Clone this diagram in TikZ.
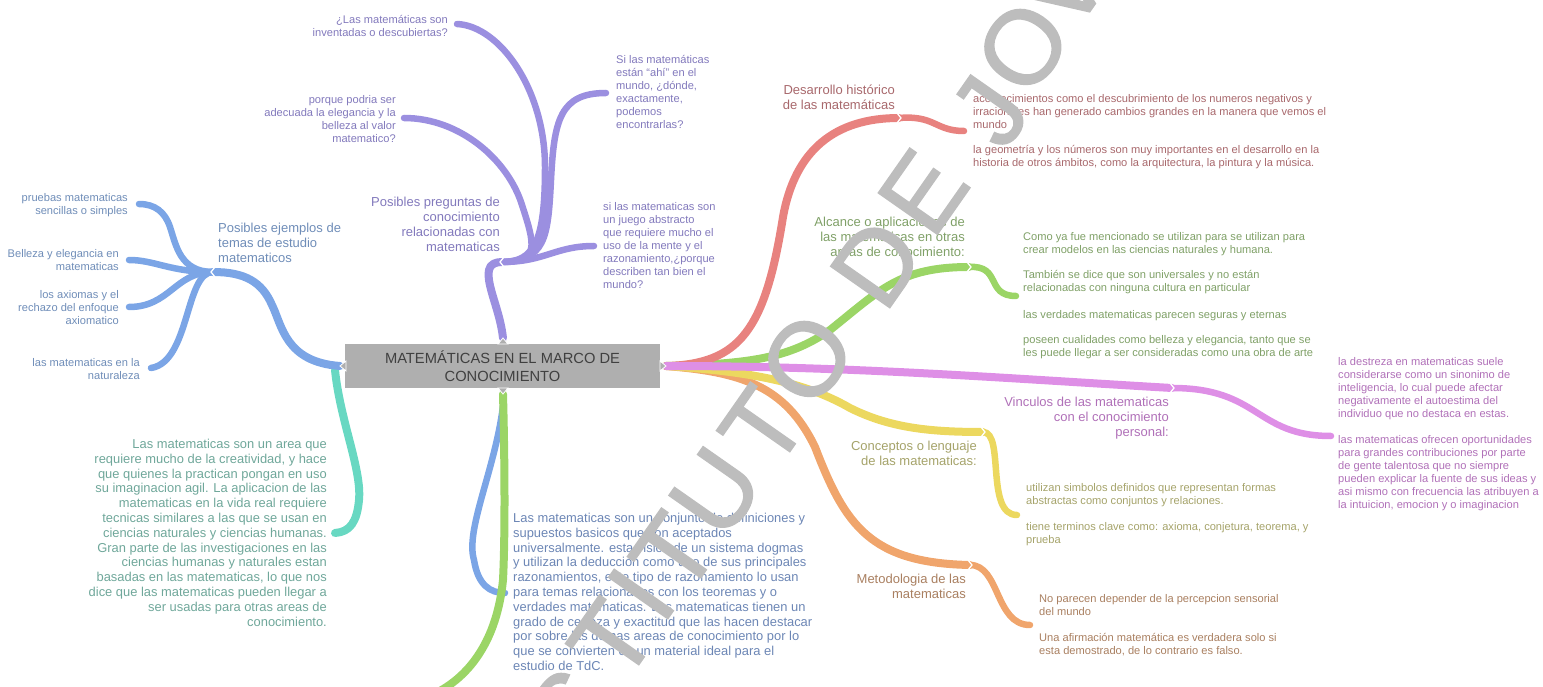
\documentclass[tikz,border=0pt]{standalone}
\usepackage{fontspec}
\setmainfont{Liberation Sans}
\newfontfamily\wmfont[FakeBold=1.3]{Liberation Sans}
\definecolor{cPur}{HTML}{9B8FE0}\definecolor{tPur}{HTML}{8279BC}
\definecolor{cBlu}{HTML}{7BA5E6}\definecolor{tBlu}{HTML}{6F8DB8}
\definecolor{cTea}{HTML}{68D8C2}\definecolor{tTea}{HTML}{6FA79A}
\definecolor{tNav}{HTML}{6C86B5}
\definecolor{cRed}{HTML}{E8827F}\definecolor{tRed}{HTML}{A8686C}
\definecolor{cGre}{HTML}{9BD566}\definecolor{tGre}{HTML}{7FA067}
\definecolor{cMag}{HTML}{DE8FE6}\definecolor{tMag}{HTML}{B070B8}
\definecolor{cYel}{HTML}{ECD85F}\definecolor{tYel}{HTML}{A5A36A}
\definecolor{cOra}{HTML}{F0A56C}\definecolor{tOra}{HTML}{A97F60}
\definecolor{cBox}{HTML}{AFAFAF}\definecolor{cMark}{HTML}{BDBDBD}
\tikzset{
 x=1pt,y=-1pt,
 small/.style={inner sep=0pt,yshift=-2pt,font=\fontsize{11.1}{13}\selectfont},
 head/.style={inner sep=0pt,yshift=-2pt,font=\fontsize{13}{15}\selectfont},
 para/.style={inner sep=0pt,font=\fontsize{12.9}{14.8}\selectfont},
 lft/.style={align=left,anchor=north west},
 rgt/.style={align=right,anchor=north east},
 branch/.style={line width=8pt,line cap=round,line join=round},
 twig/.style={line width=6.5pt,line cap=round,line join=round},
 wmark/.style={text=cMark,rotate=55,inner sep=0pt,anchor=center,font=\wmfont\fontsize{105}{105}\selectfont},
 notch/.style={draw=white,line width=1.3pt,fill=none,line cap=round},
}
\begin{document}
\begin{tikzpicture}
\useasboundingbox (0,0) rectangle (1543,687);
\clip (0,0) rectangle (1543,687);
% central
\node[fill=cBox,inner sep=0pt,minimum width=315pt,minimum height=44pt,align=center,text=black!75,font=\fontsize{14.7}{18}\selectfont] (root) at (502.5,366) {MATEMÁTICAS EN EL MARCO DE\\CONOCIMIENTO};
\coordinate (rootE) at (666,366);
\coordinate (rootW) at (340,366);
\coordinate (rootN) at (503,338);
\coordinate (rootS) at (503,394);
% junctions
\coordinate (jBlue) at (213,272);
\coordinate (jPur) at (502,262);
\coordinate (jRed) at (899,118);
\coordinate (jGre) at (969,267);
\coordinate (jMag) at (1172,388);
\coordinate (jYel) at (983,432);
\coordinate (jOra) at (970,565);
% heads
\node[head,lft,text=tBlu] (hBlue) at (218,221) {Posibles ejemplos de\\temas de estudio\\matematicos};
\node[head,rgt,text=tPur] (hPur) at (500,195) {Posibles preguntas de\\conocimiento\\relacionadas con\\matematicas};
\node[head,rgt,text=tRed] (hRed) at (895,83) {Desarrollo histórico\\de las matemáticas};
\node[head,rgt,text=tGre] (hGre) at (965,215) {Alcance o aplicaciones de\\las matematicas en otras\\areas de conocimiento:};
\node[head,rgt,text=tMag] (hMag) at (1169,395) {Vinculos de las matematicas\\con el conocimiento\\personal:};
\node[head,rgt,text=tYel] (hYel) at (977,439) {Conceptos o lenguaje\\de las matematicas:};
\node[head,rgt,text=tOra] (hOra) at (966,572) {Metodologia de las\\matematicas};
% leaves
\node[small,rgt,text=tPur] (q1) at (448,13) {¿Las matemáticas son\\inventadas o descubiertas?};
\node[small,rgt,text=tPur] (q2) at (396,93) {porque podria ser\\adecuada la elegancia y la\\belleza al valor\\matematico?};
\node[small,lft,text=tPur] (q3) at (616,53) {Si las matemáticas\\están ``ahí'' en el\\mundo, ¿dónde,\\exactamente,\\podemos\\encontrarlas?};
\node[small,lft,text=tPur] (q4) at (603,200) {si las matematicas son\\un juego abstracto\\que requiere mucho el\\uso de la mente y el\\razonamiento,¿porque\\describen tan bien el\\mundo?};
\node[small,rgt,text=tBlu] (b1) at (128,191) {pruebas matematicas\\sencillas o simples};
\node[small,rgt,text=tBlu] (b2) at (119,247) {Belleza y elegancia en\\matematicas};
\node[small,rgt,text=tBlu] (b3) at (119,288) {los axiomas y el\\rechazo del enfoque\\axiomatico};
\node[small,rgt,text=tBlu] (b4) at (140,356) {las matematicas en la\\naturaleza};
\node[para,rgt,text=tTea] (pTea) at (327,439) {Las matematicas son un area que\\requiere mucho de la creatividad, y hace\\que quienes la practican pongan en uso\\su imaginacion agil. La aplicacion de las\\matematicas en la vida real requiere\\tecnicas similares a las que se usan en\\ciencias naturales y ciencias humanas.\\Gran parte de las investigaciones en las\\ciencias humanas y naturales estan\\basadas en las matematicas, lo que nos\\dice que las matematicas pueden llegar a\\ser usadas para otras areas de\\conocimiento.};
\node[para,lft,text=tNav] (pNav) at (513,513) {Las matematicas son un conjunto de definiciones y\\supuestos basicos que son aceptados\\universalmente. esta visión de un sistema dogmas\\y utilizan la deducción como uno de sus principales\\razonamientos, este tipo de razonamiento lo usan\\para temas relacionados con los teoremas y o\\verdades matematicas. Las matematicas tienen un\\grado de certeza y exactitud que las hacen destacar\\por sobre las demas areas de conocimiento por lo\\que se convierten en un material ideal para el\\estudio de TdC.};
\node[small,lft,text=tRed] (r1) at (973,92) {acontecimientos como el descubrimiento de los numeros negativos y\\irracionales han generado cambios grandes en la manera que vemos el\\mundo};
\node[small,lft,text=tRed] (r2) at (973,143) {la geometría y los números son muy importantes en el desarrollo en la\\historia de otros ámbitos, como la arquitectura, la pintura y la música.};
\node[small,lft,text=tGre] (g1) at (1023,230) {Como ya fue mencionado se utilizan para se utilizan para\\crear modelos en las ciencias naturales y humana.};
\node[small,lft,text=tGre] (g2) at (1023,268) {También se dice que son universales y no están\\relacionadas con ninguna cultura en particular};
\node[small,lft,text=tGre] (g3) at (1023,308) {las verdades matematicas parecen seguras y eternas};
\node[small,lft,text=tGre] (g4) at (1023,333) {poseen cualidades como belleza y elegancia, tanto que se\\les puede llegar a ser consideradas como una obra de arte};
\node[small,lft,text=tMag] (m1) at (1338,355) {la destreza en matematicas suele\\considerarse como un sinonimo de\\inteligencia, lo cual puede afectar\\negativamente el autoestima del\\individuo que no destaca en estas.};
\node[small,lft,text=tMag] (m2) at (1338,433) {las matematicas ofrecen oportunidades\\para grandes contribuciones por parte\\de gente talentosa que no siempre\\pueden explicar la fuente de sus ideas y\\asi mismo con frecuencia las atribuyen a\\la intuicion, emocion y o imaginacion};
\node[small,lft,text=tYel] (y1) at (1026,481) {utilizan simbolos definidos que representan formas\\abstractas como conjuntos y relaciones.};
\node[small,lft,text=tYel] (y2) at (1026,520) {tiene terminos clave como: axioma, conjetura, teorema, y\\prueba};
\node[small,lft,text=tOra] (o1) at (1039,592) {No parecen depender de la percepcion sensorial\\del mundo};
\node[small,lft,text=tOra] (o2) at (1039,631) {Una afirmación matemática es verdadera solo si\\esta demostrado, de lo contrario es falso.};
% connector ends
\coordinate (eQ1) at (457,24);\coordinate (eQ2) at (404,118);\coordinate (eQ3) at (606,93);\coordinate (eQ4) at (594,246);
\coordinate (eB1) at (139,204);\coordinate (eB2) at (129,260);\coordinate (eB3) at (129,307);\coordinate (eB4) at (151,368);
\coordinate (eR) at (964,131);\coordinate (eG) at (1016,296);\coordinate (eM) at (1331,436);\coordinate (eY) at (1017,515);\coordinate (eO) at (1030,625);
\coordinate (eTea) at (335,533);\coordinate (eNav) at (505,593);\coordinate (eGre) at (438,692);
% connectors, back to front
\draw[branch,cTea] (rootW) ++(-5,4) .. controls (340,420) and (362,470) .. (359,500) .. controls (357,522) and (350,532) .. (eTea);
\draw[branch,cBlu] (rootW) .. controls (285,362) and (282,325) .. (272,305) .. controls (262,282) and (245,272) .. (jBlue);
\draw[twig,cBlu] (jBlue) .. controls (180,272) and (176,245) .. (170,227) .. controls (165,212) and (155,204) .. (eB1);
\draw[twig,cBlu] (jBlue) .. controls (170,272) and (155,260) .. (eB2);
\draw[twig,cBlu] (jBlue) .. controls (175,272) and (170,307) .. (eB3);
\draw[twig,cBlu] (jBlue) .. controls (185,272) and (190,362) .. (eB4);
\draw[branch,cPur] (rootN) .. controls (500,310) and (486,285) .. (489,270) .. controls (490,264) and (496,262) .. (jPur);
\draw[twig,cPur] (jPur) .. controls (535,262) and (545,240) .. (545,167) .. controls (545,90) and (500,26) .. (eQ1);
\draw[twig,cPur] (jPur) .. controls (540,262) and (535,245) .. (522,205) .. controls (508,160) and (460,118) .. (eQ2);
\draw[twig,cPur] (jPur) .. controls (545,260) and (548,240) .. (551,180) .. controls (554,120) and (560,93) .. (eQ3);
\draw[twig,cPur] (jPur) .. controls (545,262) and (555,246) .. (eQ4);
\draw[branch,cOra] (rootE) .. controls (740,372) and (785,385) .. (815,447) .. controls (845,525) and (870,563) .. (jOra);
\draw[twig,cOra] (jOra) .. controls (1000,565) and (995,625) .. (eO);
\draw[branch,cYel] (rootE) .. controls (760,372) and (810,385) .. (850,408) .. controls (890,428) and (930,432) .. (jYel);
\draw[twig,cYel] (jYel) .. controls (1005,432) and (985,515) .. (eY);
\draw[branch,cGre] (rootE) .. controls (750,364) and (790,358) .. (830,330) .. controls (880,290) and (900,267) .. (jGre);
\draw[twig,cGre] (jGre) .. controls (1002,265) and (985,296) .. (eG);
\draw[branch,cRed] (rootE) .. controls (740,364) and (765,330) .. (783,217) .. controls (795,150) and (835,118) .. (jRed);
\draw[twig,cRed] (jRed) .. controls (935,115) and (935,131) .. (eR);
\draw[branch,cMag] (rootE) .. controls (850,366) and (1000,378) .. (jMag);
\draw[twig,cMag] (jMag) .. controls (1260,388) and (1255,436) .. (eM);
\draw[twig,cBlu] (rootS) ++(0,12) .. controls (495,470) and (465,530) .. (474,560) .. controls (478,585) and (490,593) .. (eNav);
\draw[branch,cGre] (rootS) .. controls (505,470) and (505,540) .. (503,580) .. controls (497,640) and (470,675) .. (eGre);
% root points
\foreach \p/\a in {rootE/0,rootW/180,rootN/90,rootS/270}{
 \fill[cBox,draw=white,line width=.8pt,rotate around={\a:(\p)}] (\p) -- ++(-6,-5) -- ++(0,10) -- cycle;
}
% junction notches
\foreach \p in {jRed,jGre,jMag,jYel,jOra}{\draw[notch] (\p) ++(-2,-5) -- ++(4,5) -- ++(-4,5);}
\foreach \p in {jBlue,jPur}{\draw[notch] (\p) ++(2,-5) -- ++(-4,5) -- ++(4,5);}
% watermark
\node[wmark] (w1) at (570,710) {S};
\node[wmark] (w2) at (612,640) {T};
\node[wmark] (w3) at (641,594) {I};
\node[wmark] (w4) at (674,553) {T};
\node[wmark] (w5) at (716,492) {U};
\node[wmark] (w6) at (763,427) {T};
\node[wmark] (w7) at (807,359) {O};
\node[wmark] (w8) at (877,263) {D};
\node[wmark] (w9) at (923,192) {E};
\node[wmark] (w10) at (990,111) {J};
\node[wmark] (w11) at (1023,47) {O};
\node[wmark] (w12) at (1063,-13) {V};
\end{tikzpicture}
\end{document}
